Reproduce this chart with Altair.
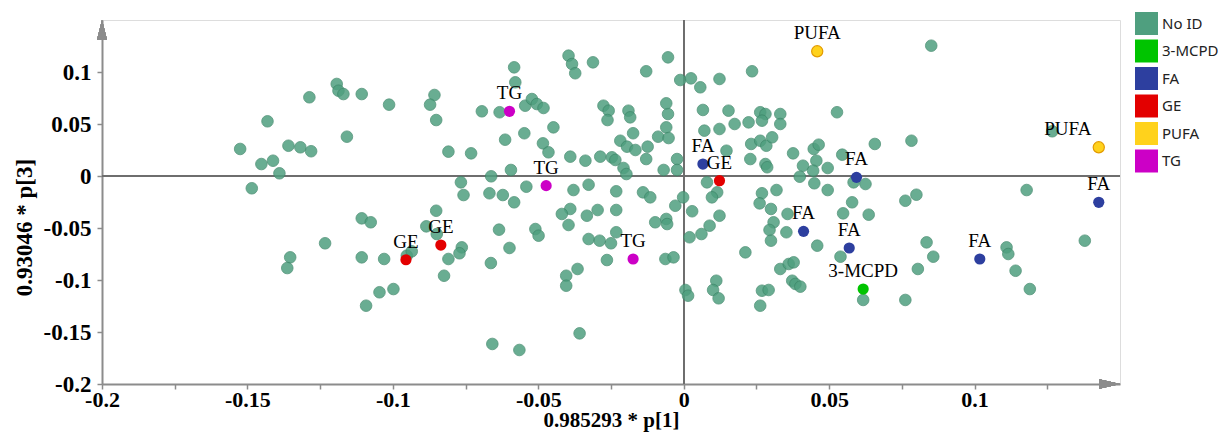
import altair as alt
import pandas as pd

# ---- data ----
noid_x = [
    -0.1287, -0.1431, -0.1525, -0.1452, -0.1412, -0.1359, -0.1318, -0.1281, -0.1390, -0.1485, -0.1353, -0.1363,
    -0.1193, -0.1187, -0.1170, -0.1107, -0.1013, -0.1158, -0.0857, -0.0872, -0.0851, -0.0809, -0.0731, -0.0694,
    -0.0633, -0.0583, -0.0579, -0.0545, -0.0614, -0.0548, -0.0594, -0.0662, -0.0766, -0.0757, -0.0668, -0.0622,
    -0.0583, -0.0541, -0.1233, -0.1107, -0.1076, -0.1107, -0.1030, -0.0952, -0.0935, -0.0851, -0.0885, -0.0849,
    -0.0763, -0.0771, -0.0809, -0.0824, -0.0998, -0.1046, -0.1092, -0.0635, -0.0599, -0.0663, -0.0658, -0.0565,
    -0.0396, -0.0384, -0.0373, -0.0312, -0.0129, -0.0054, -0.0012, 0.0025, 0.0057, 0.0123,
    -0.0522, -0.0505, -0.0482, -0.0448, -0.0484, -0.0465, -0.0390, -0.0338, -0.0287, -0.0247, -0.0235, -0.0207,
    -0.0197, -0.0276, -0.0258, -0.0262, -0.0190, -0.0184, -0.0174, -0.0218, -0.0195, -0.0166, -0.0124, -0.0129,
    -0.0088, -0.0060, -0.0054, -0.0060, -0.0052, -0.0023, -0.0023, -0.0069, 0.0066, 0.0071, 0.0123, 0.0154,
    0.0175, 0.0147, 0.0080, 0.0115, 0.0097, -0.0379, -0.0327, -0.0232, -0.0140, -0.0115, -0.0002, -0.0029,
    0.0029, -0.0390, -0.0419, -0.0396, -0.0333, -0.0296, -0.0232, -0.0098, -0.0060, -0.0057, -0.0510, -0.0499,
    -0.0327, -0.0289, -0.0250, -0.0232, -0.0264, -0.0063, -0.0035, 0.0020, 0.0061, 0.0089, 0.0123, -0.0404,
    -0.0365, -0.0404, 0.0006, 0.0015, 0.0112, 0.0101, 0.0120, -0.0358,
    0.0851, 0.0235, 0.0527, 0.0223, 0.0263, 0.0281, 0.0269, 0.0332, 0.0332, 0.0232, 0.0263, 0.0284,
    0.0304, 0.0229, 0.0281, 0.0287, 0.0376, 0.0410, 0.0399, 0.0447, 0.0464, 0.0456, 0.0445, 0.0495,
    0.0449, 0.0495, 0.0545, 0.0657, 0.0783, 0.0584, 0.0625, 0.0269, 0.0319, 0.0261, 0.0300, 0.0309,
    0.0295, 0.0300, 0.0357, 0.0353, 0.0459, 0.0579, 0.0548, 0.0636, 0.0539, 0.0762, 0.0800, 0.0835,
    0.0858, 0.0805, 0.0212, 0.0332, 0.0361, 0.0378, 0.0373, 0.0384, 0.0401, 0.0269, 0.0292, 0.0263,
    0.0617, 0.0762,
    0.1267, 0.1179, 0.1379, 0.1110, 0.1116, 0.1141, 0.1190,
]
noid_y = [
    0.0757, 0.0526, 0.0260, 0.0115, 0.0147, 0.0291, 0.0276, 0.0238, 0.0026, -0.0118, -0.0782, -0.0885,
    0.0885, 0.0820, 0.0788, 0.0788, 0.0686, 0.0378, 0.0779, 0.0686, 0.0538, 0.0234, 0.0218, 0.0622,
    0.0613, 0.1045, 0.0901, 0.0676, 0.0349, 0.0411, 0.0058, -0.0003, -0.0061, -0.0183, -0.0166, -0.0183,
    -0.0253, -0.0103, -0.0647, -0.0407, -0.0445, -0.0782, -0.0798, -0.0766, -0.0724, -0.0334, -0.0484, -0.0558,
    -0.0686, -0.0743, -0.0798, -0.0959, -0.1087, -0.1118, -0.1247, -0.0516, -0.0692, -0.0837, -0.1615, -0.1673,
    0.1157, 0.1077, 0.0988, 0.1093, 0.1007, 0.1141, 0.0923, 0.0939, 0.0853, 0.0933,
    0.0740, 0.0692, 0.0654, 0.0468, 0.0314, 0.0228, 0.0186, 0.0147, 0.0186, 0.0180, 0.0154, 0.0077,
    0.0019, 0.0676, 0.0628, 0.0538, 0.0628, 0.0564, 0.0411, 0.0339, 0.0282, 0.0250, 0.0282, 0.0163,
    0.0378, 0.0468, 0.0596, 0.0699, 0.0365, 0.0163, 0.0058, 0.0058, 0.0635, 0.0436, 0.0452, 0.0628,
    0.0500, 0.0243, -0.0061, -0.0157, -0.0205, -0.0135, -0.0084, -0.0147, -0.0157, -0.0205, -0.0205, -0.0286,
    -0.0339, -0.0317, -0.0365, -0.0471, -0.0382, -0.0327, -0.0327, -0.0445, -0.0413, -0.0462, -0.0510, -0.0574,
    -0.0606, -0.0622, -0.0647, -0.0541, -0.0808, -0.0798, -0.0782, -0.0589, -0.0558, -0.0478, -0.0382, -0.0959,
    -0.0894, -0.1055, -0.1096, -0.1151, -0.1007, -0.1096, -0.1176, -0.1513,
    0.1253, 0.1007, 0.0613, 0.0516, 0.0613, 0.0596, 0.0532, 0.0596, 0.0500, 0.0308, 0.0339, 0.0291,
    0.0372, 0.0163, 0.0115, 0.0084, 0.0218, 0.0099, -0.0007, 0.0260, 0.0301, 0.0147, 0.0051, 0.0077,
    -0.0070, -0.0135, 0.0205, 0.0308, 0.0339, -0.0061, -0.0077, -0.0166, -0.0135, -0.0263, -0.0317, -0.0445,
    -0.0519, -0.0622, -0.0365, -0.0541, -0.0670, -0.0253, -0.0359, -0.0372, -0.0776, -0.0238, -0.0180, -0.0638,
    -0.0776, -0.0894, -0.0734, -0.0894, -0.0846, -0.0830, -0.1007, -0.1038, -0.1064, -0.1103, -0.1096, -0.1247,
    -0.1192, -0.1192,
    0.0430, -0.0135, -0.0622, -0.0686, -0.0750, -0.0911, -0.1087,
]

id_cat = ["TG", "TG", "TG", "GE", "GE", "GE", "FA", "FA", "FA", "FA", "FA", "FA", "PUFA", "PUFA", "3-MCPD"]
id_x = [-0.0599, -0.0473, -0.0174, -0.0955, -0.0835, 0.0123, 0.0066, 0.0594, 0.0412, 0.0569, 0.1018, 0.1427,
        0.0459, 0.1427, 0.0617]
id_y = [0.0622, -0.0093, -0.0798, -0.0805, -0.0664, -0.0045, 0.0115, -0.0013, -0.0532, -0.0692, -0.0798, -0.0253,
        0.1199, 0.0276, -0.1087]

categories = ["No ID", "3-MCPD", "FA", "GE", "PUFA", "TG"]
cat_colors = ["#4f9f7f", "#00c400", "#2d3f9f", "#e30000", "#ffd21c", "#cc00c6"]

x_domain = [-0.2, 0.15]
y_domain = [-0.2, 0.15]
tick_values = [-0.2, -0.175, -0.15, -0.125, -0.1, -0.075, -0.05, -0.025, 0.0, 0.025, 0.05, 0.075, 0.1, 0.125]

x_title = "0.985293 * p[1]"
y_title = "0.93046 * p[3]"

# ---- build ----
df_noid = pd.DataFrame({"x": noid_x, "y": noid_y, "cat": ["No ID"] * len(noid_x)})
df_id = pd.DataFrame({"x": id_x, "y": id_y, "cat": id_cat})

label_expr = ("round(datum.value*40) % 2 == 0 ? replace(format(datum.value, '.2~f'), '\u2212', '-') : ''")

axis_common = dict(
    values=tick_values, labelExpr=label_expr, grid=False, labelFlush=False, labelOverlap=False,
    labelFont="Liberation Serif", labelFontWeight="bold", labelColor="#000",
    titleFont="Liberation Serif", titleFontWeight="bold", titleColor="#000",
    domainColor="#8c8c8c", domainWidth=2, tickColor="#8c8c8c", tickWidth=1.5, tickSize=5,
)

x_enc = alt.X("x:Q", scale=alt.Scale(domain=x_domain, nice=False, zero=False),
              axis=alt.Axis(title=x_title, labelFontSize=22, labelPadding=0, titleY=36, titleFontSize=21,
                            titleBaseline="middle", **axis_common))
y_enc = alt.Y("y:Q", scale=alt.Scale(domain=y_domain, nice=False, zero=False),
              axis=alt.Axis(title=y_title, labelFontSize=23, labelPadding=6, titleX=-78, titleY=207,
                            titleAngle=270, titleFontSize=23, titleAlign="center", titleBaseline="middle",
                            **axis_common))
color_enc = alt.Color("cat:N", scale=alt.Scale(domain=categories, range=cat_colors),
                      legend=alt.Legend(title=None, orient="none", legendX=1033, legendY=-8,
                                        symbolType="square", symbolSize=529, symbolStrokeWidth=0,
                                        symbolOpacity=1, labelFont="Noto Sans", labelFontSize=15,
                                        labelColor="#222", rowPadding=4.5, labelOffset=4, padding=0))

hline = alt.Chart(df_id).mark_rule(color="#6e6e6e", strokeWidth=1).encode(y=alt.datum(0))
vline = alt.Chart(df_id).mark_rule(color="#6e6e6e", strokeWidth=1).encode(x=alt.datum(0))

noid = alt.Chart(df_noid).mark_circle(size=135, opacity=0.85, stroke="#3a8466", strokeWidth=0.8).encode(
    x=x_enc, y=y_enc, color=color_enc)

ided = alt.Chart(df_id).mark_circle(size=125, opacity=1).encode(
    x="x:Q", y="y:Q", color=color_enc,
    stroke=alt.condition("datum.cat == 'PUFA'", alt.value("#e39b00"), alt.value("transparent")),
    strokeWidth=alt.value(1.2))

labels = alt.Chart(df_id).transform_filter("!(datum.cat == 'PUFA' && datum.x > 0.12)").mark_text(
    font="Liberation Serif", fontSize=19, dy=-18, color="#000", baseline="middle").encode(
    x="x:Q", y="y:Q", text="cat:N")
label_shift = alt.Chart(df_id).transform_filter("datum.cat == 'PUFA' && datum.x > 0.12").mark_text(
    font="Liberation Serif", fontSize=19, dy=-18, dx=-31, color="#000", baseline="middle").encode(
    x="x:Q", y="y:Q", text="cat:N")

arrow_up = alt.Chart(df_id).mark_point(shape="M0,0 L0.5,2 L-0.5,2 Z", size=400, filled=True,
                                       color="#8c8c8c", opacity=1).encode(
    x=alt.datum(x_domain[0]), y=alt.datum(y_domain[1]))
arrow_right = alt.Chart(df_id).mark_point(shape="M0,0 L-2,-0.45 L-2,0.45 Z", size=441, filled=True,
                                          color="#8c8c8c", opacity=1).encode(
    x=alt.datum(x_domain[1]), y=alt.datum(y_domain[0]))

chart = alt.layer(hline, vline, noid, ided, labels, label_shift, arrow_up, arrow_right).properties(
    width=1018, height=364,
    autosize=alt.AutoSizeParams(type="none"),
    padding={"left": 94, "top": 12, "right": 99, "bottom": 48},
).configure_view(stroke=None).configure(background="white")

chart.save("out.html", embed_options={"renderer": "svg", "actions": False})
